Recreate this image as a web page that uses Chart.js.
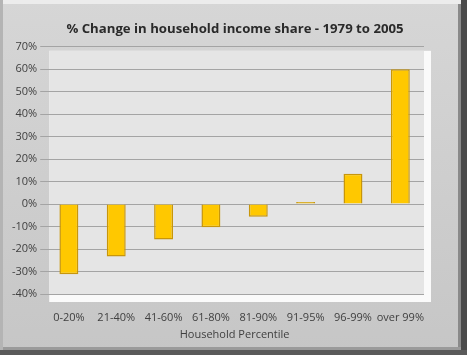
<!DOCTYPE html>
<html><head><meta charset="utf-8">
<script src="https://cdn.jsdelivr.net/npm/chart.js@4"></script>
<style>html,body{margin:0;padding:0;background:#c6c6c6;}canvas{display:block;}</style>
</head><body>
<canvas id="c" width="467" height="355"></canvas>
<script>
const categories = ["0-20%","21-40%","41-60%","61-80%","81-90%","91-95%","96-99%","over 99%"];
const values = [-31.2, -23.3, -15.7, -10.3, -5.6, 1.0, 13.5, 60];
const yMin = -40, yMax = 70, yStep = 10;
const titleText = "% Change in household income share - 1979 to 2005";
const xTitle = "Household Percentile";

const framePlugin = {
  id: 'frame',
  beforeDraw(chart) {
    const ctx = chart.ctx, w = chart.width, h = chart.height;
    ctx.save();
    const g = ctx.createLinearGradient(0, 0, 0, h);
    g.addColorStop(0, '#d6d6d6'); g.addColorStop(1, '#c6c6c6');
    ctx.fillStyle = g; ctx.fillRect(0, 0, w, h);
    ctx.fillStyle = '#ececec'; ctx.fillRect(0, 0, w, 4);
    ctx.fillStyle = '#b4b4b4'; ctx.fillRect(0, 0, 3, h);
    ctx.fillStyle = '#4a4a4a'; ctx.fillRect(w - 6, 0, 6, h);
    ctx.fillStyle = '#8a8a8a'; ctx.fillRect(w - 9, 4, 3, h - 4);
    ctx.fillStyle = '#5a5a5a'; ctx.fillRect(0, h - 5, w, 5);
    ctx.fillStyle = '#9a9a9a'; ctx.fillRect(3, h - 8, w - 9, 3);
    const a = chart.chartArea;
    ctx.fillStyle = '#fafafa';
    ctx.fillRect(a.left + 4, a.top + 4, a.right - a.left + 3, a.bottom - a.top + 4);
    ctx.fillStyle = '#e5e5e5';
    ctx.fillRect(a.left + 4, a.top + 4, a.right - a.left - 4, a.bottom - a.top - 4);
    ctx.restore();
  }
};

new Chart(document.getElementById('c'), {
  type: 'bar',
  data: {
    labels: categories,
    datasets: [{
      data: values,
      backgroundColor: '#FFC800',
      borderColor: '#C8960A',
      borderWidth: 1.5,
      barPercentage: 0.8,
      categoryPercentage: 0.5
    }]
  },
  options: {
    responsive: false,
    animation: false,
    devicePixelRatio: 1,
    layout: { padding: { top: 4, right: 6, left: 9, bottom: 14 } },
    plugins: {
      legend: { display: false },
      tooltip: { enabled: false },
      title: {
        display: true, text: titleText, color: '#2a2a2a',
        font: { family: 'Open Sans', size: 13.2, weight: 'bold' },
        padding: { top: 17, bottom: 10 }
      }
    },
    scales: {
      x: {
        grid: { display: false, drawTicks: false },
        border: { display: false },
        ticks: { color: '#404040', font: { family: 'Open Sans', size: 11 }, padding: 17, maxRotation: 0, autoSkip: false },
        title: { display: true, text: xTitle, color: '#404040', font: { family: 'Open Sans', size: 11 }, padding: { top: 2, bottom: 0 } },
        afterFit: s => { s.height = 47; }
      },
      y: {
        min: yMin, max: yMax,
        grid: { color: '#a4a4a4', lineWidth: 1, tickLength: 5 },
        border: { display: false },
        ticks: { stepSize: yStep, color: '#404040', font: { family: 'Open Sans', size: 11 }, padding: 3,
          callback: v => v + '%' }
      },
      yR: {
        position: 'right',
        display: true,
        grid: { display: false, drawTicks: false },
        border: { display: false },
        ticks: { display: false },
        afterFit: s => { s.width = 37; }
      }
    }
  },
  plugins: [framePlugin]
});
</script>
</body></html>
